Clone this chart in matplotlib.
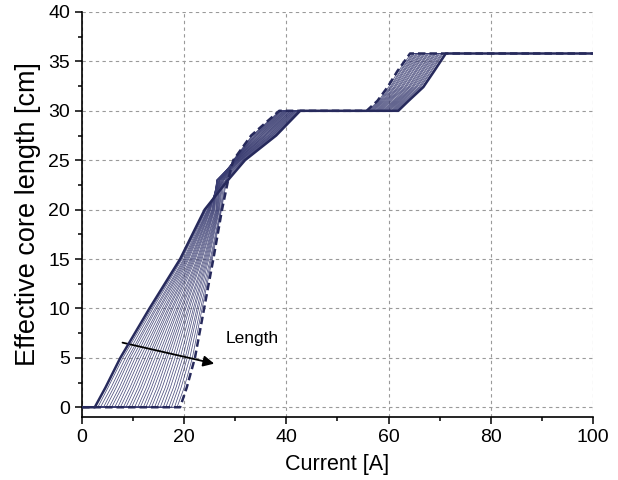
import numpy as np
import matplotlib
matplotlib.use("Agg")
import matplotlib.pyplot as plt

plt.rcParams['font.family'] = ['Liberation Sans', 'DejaVu Sans']

# core length levels (cm) at which the current of each curve was read
levels_rise1 = [0, 2, 5, 10, 15, 20, 23, 25, 27.5, 30]
levels_rise2 = [30, 31, 32.4, 34, 35.8]
y_max = 35.8

# current (A) of every curve (first -> last) at each level of the first rise
x_at_0 = [2.5, 3.1, 3.6, 4.2, 4.7, 5.3, 5.8, 6.4, 7.0, 7.5, 8.1, 8.6, 9.2, 9.7, 10.3, 10.9,
          11.4, 12.0, 12.5, 13.1, 13.6, 14.2, 14.7, 15.3, 15.9, 16.4, 17.0, 17.5, 18.1, 18.6, 19.2]
x_at_2 = [4.6, 5.1, 5.7, 6.2, 6.7, 7.3, 7.8, 8.3, 8.8, 9.4, 9.9, 10.4, 11.0, 11.5, 12.0, 12.6,
          13.1, 13.6, 14.1, 14.7, 15.2, 15.7, 16.3, 16.8, 17.3, 17.9, 18.4, 18.9, 19.4, 20.0, 20.5]
x_at_5 = [7.5, 8.0, 8.5, 9.0, 9.4, 9.9, 10.4, 10.9, 11.4, 11.9, 12.4, 12.9, 13.3, 13.8, 14.3, 14.8,
          15.3, 15.8, 16.3, 16.7, 17.2, 17.7, 18.2, 18.7, 19.2, 19.7, 20.2, 20.6, 21.1, 21.6, 22.1]
x_at_10 = [13.2, 13.6, 13.9, 14.3, 14.6, 15.0, 15.3, 15.7, 16.1, 16.4, 16.8, 17.1, 17.5, 17.8, 18.2, 18.6,
           18.9, 19.3, 19.6, 20.0, 20.3, 20.7, 21.0, 21.4, 21.8, 22.1, 22.5, 22.8, 23.2, 23.5, 23.9]
x_at_15 = [19.2, 19.4, 19.6, 19.9, 20.1, 20.3, 20.5, 20.7, 20.9, 21.2, 21.4, 21.6, 21.8, 22.0, 22.2, 22.5,
           22.7, 22.9, 23.1, 23.3, 23.5, 23.8, 24.0, 24.2, 24.4, 24.6, 24.8, 25.1, 25.3, 25.5, 25.7]
x_at_20 = [24.0, 24.1, 24.2, 24.3, 24.5, 24.6, 24.7, 24.8, 24.9, 25.0, 25.1, 25.2, 25.4, 25.5, 25.6, 25.7,
           25.8, 25.9, 26.0, 26.2, 26.3, 26.4, 26.5, 26.6, 26.7, 26.8, 26.9, 27.1, 27.2, 27.3, 27.4]
x_at_23 = [28.6, 28.3, 28.1, 27.8, 27.6, 27.4, 27.2, 27.0, 26.9, 26.8, 26.6, 26.6, 26.5, 26.4, 26.4, 26.4,
           26.4, 26.4, 26.5, 26.6, 26.6, 26.8, 26.9, 27.0, 27.2, 27.4, 27.6, 27.8, 28.1, 28.3, 28.6]
x_at_25 = [31.9, 31.8, 31.6, 31.5, 31.4, 31.2, 31.1, 31.0, 30.9, 30.8, 30.7, 30.6, 30.5, 30.4, 30.3, 30.3,
           30.2, 30.1, 30.0, 30.0, 29.9, 29.9, 29.8, 29.8, 29.7, 29.7, 29.7, 29.7, 29.6, 29.6, 29.6]
x_at_27 = [38.0, 37.8, 37.7, 37.5, 37.3, 37.2, 37.0, 36.9, 36.7, 36.5, 36.4, 36.2, 36.0, 35.9, 35.7, 35.6,
           35.4, 35.2, 35.1, 34.9, 34.7, 34.6, 34.4, 34.2, 34.1, 33.9, 33.8, 33.6, 33.4, 33.3, 33.1]
x_at_30 = [42.7, 42.6, 42.4, 42.3, 42.2, 42.0, 41.9, 41.7, 41.6, 41.5, 41.3, 41.2, 41.1, 40.9, 40.8, 40.7,
           40.5, 40.4, 40.2, 40.1, 40.0, 39.8, 39.7, 39.6, 39.4, 39.3, 39.1, 39.0, 38.9, 38.7, 38.6]

# second rise (30 -> 35.8 cm)
x2_at_30 = [61.9, 61.7, 61.5, 61.3, 61.1, 60.9, 60.7, 60.5, 60.2, 60.0, 59.8, 59.6, 59.4, 59.2, 59.0, 58.8,
            58.6, 58.4, 58.2, 58.0, 57.8, 57.6, 57.4, 57.1, 56.9, 56.7, 56.5, 56.3, 56.1, 55.9, 55.7]
x2_at_31 = [63.9, 63.7, 63.5, 63.3, 63.1, 62.9, 62.7, 62.5, 62.3, 62.1, 61.9, 61.7, 61.5, 61.3, 61.1, 60.9,
            60.6, 60.4, 60.2, 60.0, 59.8, 59.6, 59.4, 59.2, 59.0, 58.8, 58.6, 58.4, 58.2, 58.0, 57.8]
x2_at_32 = [66.8, 66.6, 66.3, 66.1, 65.9, 65.6, 65.4, 65.2, 64.9, 64.7, 64.5, 64.2, 64.0, 63.8, 63.5, 63.3,
            63.1, 62.8, 62.6, 62.4, 62.1, 61.9, 61.7, 61.4, 61.2, 61.0, 60.7, 60.5, 60.3, 60.0, 59.8]
x2_at_34 = [68.9, 68.7, 68.4, 68.2, 67.9, 67.7, 67.5, 67.2, 67.0, 66.7, 66.5, 66.3, 66.0, 65.8, 65.5, 65.3,
            65.1, 64.8, 64.6, 64.3, 64.1, 63.9, 63.6, 63.4, 63.1, 62.9, 62.7, 62.4, 62.2, 61.9, 61.7]
x2_at_36 = [71.2, 71.0, 70.7, 70.5, 70.3, 70.0, 69.8, 69.6, 69.3, 69.1, 68.9, 68.6, 68.4, 68.2, 67.9, 67.7,
            67.5, 67.2, 67.0, 66.8, 66.5, 66.3, 66.1, 65.8, 65.6, 65.4, 65.1, 64.9, 64.7, 64.4, 64.2]

rise1 = [x_at_0, x_at_2, x_at_5, x_at_10, x_at_15, x_at_20, x_at_23, x_at_25, x_at_27, x_at_30]
rise2 = [x2_at_30, x2_at_31, x2_at_32, x2_at_34, x2_at_36]
n_curves = len(x_at_0)

fig = plt.figure(figsize=(6.18, 4.8), dpi=100)
ax = fig.add_axes([0.1327, 0.131, 0.8268, 0.844])

navy = '#272a5c'
for k in range(n_curves):
    xs = [0] + [lv[k] for lv in rise1] + [lv[k] for lv in rise2] + [100]
    ys = [0] + levels_rise1 + levels_rise2 + [y_max]
    if k == 0:
        ax.plot(xs, ys, color=navy, lw=1.8, zorder=4)
    elif k == n_curves - 1:
        ax.plot(xs, ys, color=navy, lw=1.8, ls=(0, (3, 1.6)), zorder=5)
    else:
        ax.plot(xs, ys, color='#3a3d72', lw=0.55, alpha=0.9, zorder=3)

ax.annotate('', xy=(26.4, 4.35), xytext=(7.4, 6.6),
            arrowprops=dict(arrowstyle='-|>', color='black', lw=1.3, mutation_scale=16))
ax.text(28.1, 7.0, 'Length', fontsize=12.5, va='center', ha='left')

ax.set_xlim(0, 100)
ax.set_ylim(-1.0, 40)
ax.set_xticks([0, 20, 40, 60, 80, 100])
ax.set_xticks([10, 30, 50, 70, 90], minor=True)
ax.set_yticks(np.arange(0, 41, 5))
ax.set_yticks(np.arange(2.5, 40, 5), minor=True)
ax.tick_params(which='major', direction='out', length=5, width=1.1, labelsize=14)
ax.tick_params(which='minor', direction='out', length=3, width=1.1)
ax.grid(True, which='major', color='#9a9a9a', ls=(0, (3, 3)), lw=0.8, zorder=0)

for s in ['top', 'right']:
    ax.spines[s].set_visible(False)
for s in ['left', 'bottom']:
    ax.spines[s].set_linewidth(1.2)

ax.set_xlabel('Current [A]', fontsize=15.5, labelpad=6)
ax.set_ylabel('Effective core length [cm]', fontsize=19.5, labelpad=5)

fig.savefig('out.png', dpi=100)
